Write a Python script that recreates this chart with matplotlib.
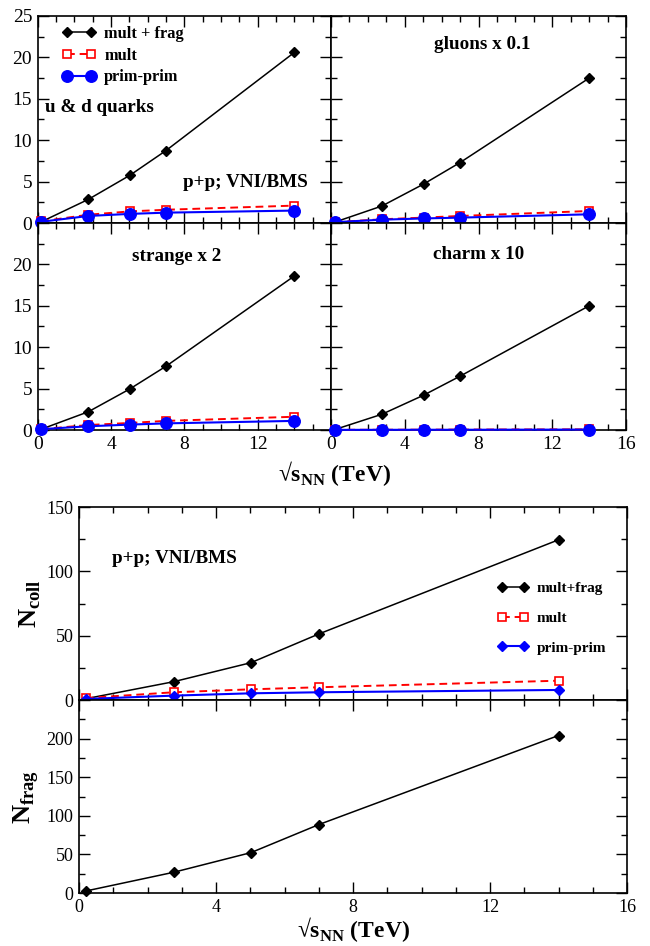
import numpy as np
import matplotlib.pyplot as plt
from matplotlib.ticker import MultipleLocator

plt.rcParams['font.family'] = ['Liberation Serif', 'DejaVu Serif']
plt.rcParams['mathtext.fontset'] = 'custom'
plt.rcParams['mathtext.rm'] = 'Liberation Serif'
plt.rcParams['mathtext.bf'] = 'Liberation Serif:bold'

# Data
energy = [0.2, 2.76, 5.02, 7.0, 14.0]

ud_multfrag = [0.15, 2.85, 5.75, 8.75, 20.6]
ud_mult = [0.2, 1.0, 1.4, 1.6, 2.1]
ud_prim = [0.15, 0.85, 1.1, 1.25, 1.5]

gl_multfrag = [0.1, 2.05, 4.7, 7.3, 17.5]
gl_mult = [0.1, 0.45, 0.65, 0.85, 1.45]
gl_prim = [0.1, 0.4, 0.55, 0.65, 1.05]

st_multfrag = [0.1, 2.2, 4.95, 7.7, 18.6]
st_mult = [0.1, 0.6, 0.85, 1.1, 1.6]
st_prim = [0.1, 0.45, 0.65, 0.8, 1.1]

ch_multfrag = [0.05, 1.9, 4.2, 6.5, 15.0]
ch_mult = [0.02, 0.03, 0.04, 0.05, 0.08]
ch_prim = [0.02, 0.02, 0.03, 0.03, 0.05]

ncoll_multfrag = [1.0, 14.2, 29.0, 51.3, 124.5]
ncoll_mult = [1.5, 6.0, 8.3, 9.9, 15.0]
ncoll_prim = [0.8, 3.4, 5.2, 6.0, 7.8]

nfrag = [2.6, 26.8, 52.3, 88.6, 204.0]

panel_labels = ['u & d quarks', 'gluons x 0.1', 'strange x 2', 'charm x 10']


def style(ax, ymaj, ymin, size):
    ax.xaxis.set_major_locator(MultipleLocator(4))
    ax.xaxis.set_minor_locator(MultipleLocator(1))
    ax.yaxis.set_major_locator(MultipleLocator(ymaj))
    ax.yaxis.set_minor_locator(MultipleLocator(ymin))
    ax.tick_params(which='both', direction='in', top=True, right=True,
                   width=1, labelsize=size, pad=4)
    ax.tick_params(which='major', length=8)
    ax.tick_params(which='minor', length=4.3)
    for s in ax.spines.values():
        s.set_linewidth(1.2)


def draw3(ax, mf, m, p):
    ax.plot(energy, mf, color='black', lw=1.1, marker='D', ms=5.6,
            label='mult + frag', clip_on=False, zorder=3)
    ax.plot(energy, m, color='red', lw=1.4, ls=(0, (4, 2.5)), marker='s',
            ms=5.5, mfc='white', mec='red', mew=1.2, label='mult',
            clip_on=False, zorder=4)
    ax.plot(energy, p, color='blue', lw=1.5, marker='o', ms=8.3,
            label='prim-prim', clip_on=False, zorder=5)


fig = plt.figure(figsize=(6.5, 9.46), dpi=100)

L, M, R = 37.7 / 650, 331 / 650, 626 / 650
w1 = M - L
w2 = R - M
h = 207 / 946
ax_ud = fig.add_axes([L, 1 - 223 / 946, w1, h])
ax_gl = fig.add_axes([M, 1 - 223 / 946, w2, h])
ax_st = fig.add_axes([L, 1 - 430 / 946, w1, h])
ax_ch = fig.add_axes([M, 1 - 430 / 946, w2, h])

sets = [(ax_ud, ud_multfrag, ud_mult, ud_prim),
        (ax_gl, gl_multfrag, gl_mult, gl_prim),
        (ax_st, st_multfrag, st_mult, st_prim),
        (ax_ch, ch_multfrag, ch_mult, ch_prim)]
for ax, mf, m, p in sets:
    draw3(ax, mf, m, p)
    style(ax, 5, 2.5, 14)

ax_ud.set_yticks([0, 5, 10, 15, 20, 25], ['0', '5', '10', '15', '20', '25'])
ax_st.set_yticks([0, 5, 10, 15, 20, 25], ['0', '5', '10', '15', '20', ''])
for ax in (ax_gl, ax_ch):
    ax.set_yticklabels([])
for ax in (ax_ud, ax_gl):
    ax.set_xticklabels([])
ax_st.set_xticks([0, 4, 8, 12, 16], ['0', '4', '8', '12', ''])
ax_ch.set_xticks([0, 4, 8, 12, 16], ['0', '4', '8', '12', '16'])
for ax in (ax_ud, ax_gl, ax_st, ax_ch):
    ax.set_xlim(0, 16)
    ax.set_ylim(0, 25)

bold = dict(fontweight='bold', fontsize=13.8)
ax_ud.text(0.4, 13.9, panel_labels[0], ha='left', va='center', **bold)
ax_ud.text(7.9, 4.95, 'p+p; VNI/BMS', ha='left', va='center', **bold)
ax_gl.text(8.2, 21.5, panel_labels[1], ha='center', va='center', **bold)
ax_st.text(7.6, 21.0, panel_labels[2], ha='center', va='center', **bold)
ax_ch.text(8.0, 21.2, panel_labels[3], ha='center', va='center', **bold)

ax_ud.legend(loc='upper left', bbox_to_anchor=(0.061, 0.985), frameon=False,
             numpoints=2, handlelength=2.07, labelspacing=0.36,
             handletextpad=0.5, borderaxespad=0,
             prop={'weight': 'bold', 'size': 11.8})

fig.text(0.515, 1 - 474 / 946, '√s$_{\\mathbf{NN}}$ (TeV)', ha='center',
         va='center', fontweight='bold', fontsize=17)

# lower figure
L2, R2 = 79 / 650, 627 / 650
h2 = 193 / 946
ax_nc = fig.add_axes([L2, 1 - 700 / 946, R2 - L2, h2])
ax_nf = fig.add_axes([L2, 1 - 893 / 946, R2 - L2, h2])

ax_nc.plot(energy, ncoll_multfrag, color='black', lw=1.1, marker='D', ms=5.5,
           label='mult+frag', clip_on=False, zorder=3)
ax_nc.plot(energy, ncoll_mult, color='red', lw=1.4, ls=(0, (4, 2.5)),
           marker='s', ms=5.2, mfc='white', mec='red', mew=1.2, label='mult',
           clip_on=False, zorder=4)
ax_nc.plot(energy, ncoll_prim, color='blue', lw=1.5, marker='D', ms=5.5,
           label='prim-prim', clip_on=False, zorder=5)
style(ax_nc, 50, 25, 13)
ax_nc.set_xlim(0, 16)
ax_nc.set_ylim(0, 150)
ax_nc.set_xticklabels([])
ax_nc.set_ylabel('N$_{\\mathbf{coll}}$', fontweight='bold', fontsize=19)
ax_nc.yaxis.set_label_coords(-0.066, 0.5)
ax_nc.text(0.96, 110, 'p+p; VNI/BMS', ha='left', va='center', **bold)
ax_nc.legend(loc='upper left', bbox_to_anchor=(0.752, 0.645), frameon=False,
             numpoints=2, handlelength=2.08, labelspacing=1.05,
             handletextpad=0.5, borderaxespad=0,
             prop={'weight': 'bold', 'size': 11})

ax_nf.plot(energy, nfrag, color='black', lw=1.1, marker='D', ms=5.5,
           clip_on=False, zorder=3)
style(ax_nf, 50, 25, 13)
ax_nf.set_yticks([0, 50, 100, 150, 200, 250],
                 ['0', '50', '100', '150', '200', ''])
ax_nf.set_xlim(0, 16)
ax_nf.set_ylim(0, 250)
ax_nf.set_ylabel('N$_{\\mathbf{frag}}$', fontweight='bold', fontsize=19)
ax_nf.yaxis.set_label_coords(-0.069, 0.5)
fig.text(353 / 650, 1 - 930 / 946, '√s$_{\\mathbf{NN}}$ (TeV)', ha='center',
         va='center', fontweight='bold', fontsize=17)

plt.savefig('out.png', dpi=100)
